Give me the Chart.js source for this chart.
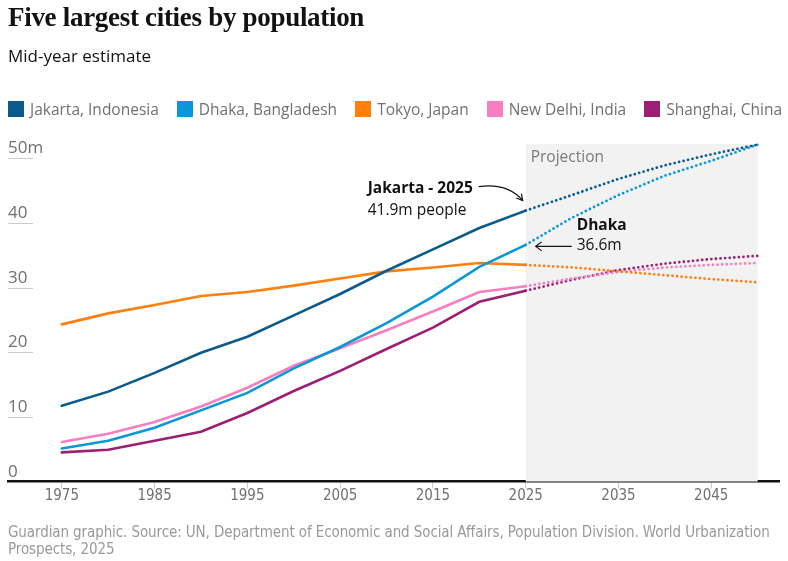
<!DOCTYPE html>
<html>
<head>
<meta charset="utf-8">
<script src="https://cdn.jsdelivr.net/npm/chart.js@4.4.1/dist/chart.umd.min.js"></script>
<style>
  body { margin: 0; background: #fff; }
  #wrap { position: relative; width: 788px; height: 561px; overflow: hidden; }
  #chart { position: absolute; left: 0; top: 0; }
  .txt { position: absolute; left: 8px; margin: 0; z-index: 2; }
  #title { top: 2px; font: bold 27px "Liberation Serif", serif; color: #121212; letter-spacing: -0.3px; }
  #subtitle { top: 44px; font: 17px "Open Sans", sans-serif; color: #121212; }
  #legend { top: 98px; display: flex; gap: 18px; font: 15.5px "Open Sans", sans-serif; color: #707070; }
  #legend span { display: flex; align-items: center; }
  #legend i { display: inline-block; width: 16px; height: 16px; margin-right: 6px; }
  #footer { top: 524px; width: 778px; font: 15px "DejaVu Sans Condensed", "Liberation Sans Narrow", sans-serif; color: #999; line-height: 17px; letter-spacing: -0.1px; }
</style>
</head>
<body>
<div id="wrap">
  <canvas id="chart" width="788" height="561"></canvas>
  <div class="txt" id="title">Five largest cities by population</div>
  <div class="txt" id="subtitle">Mid-year estimate</div>
  <div class="txt" id="legend"></div>
  <div class="txt" id="footer">Guardian graphic. Source: UN, Department of Economic and Social Affairs, Population Division. World Urbanization Prospects, 2025</div>
</div>
<script>
// years (5-year steps, projection from 2025)
const years = [1975, 1980, 1985, 1990, 1995, 2000, 2005, 2010, 2015, 2020, 2025, 2030, 2035, 2040, 2045, 2050];
const projectionStart = 2025;
const projectionEnd = 2050;

// population in millions
const jakarta = [11.7, 13.9, 16.8, 19.9, 22.4, 25.7, 29.0, 32.6, 35.9, 39.2, 41.9, 44.3, 46.8, 48.9, 50.6, 52.1];
const dhaka = [5.1, 6.3, 8.3, 11.0, 13.7, 17.5, 20.8, 24.5, 28.6, 33.2, 36.6, 40.8, 44.3, 47.3, 49.6, 52.1];
const tokyo = [24.3, 26.0, 27.3, 28.7, 29.3, 30.3, 31.4, 32.5, 33.1, 33.8, 33.5, 33.1, 32.5, 31.9, 31.3, 30.8];
const newDelhi = [6.1, 7.4, 9.2, 11.6, 14.5, 17.9, 20.6, 23.4, 26.3, 29.3, 30.2, 31.4, 32.4, 33.1, 33.5, 33.8];
const shanghai = [4.5, 4.9, 6.3, 7.7, 10.6, 14.0, 17.1, 20.5, 23.8, 27.8, 29.5, 31.2, 32.7, 33.7, 34.4, 34.9];

const cityNames = ["Jakarta, Indonesia", "Dhaka, Bangladesh", "Tokyo, Japan", "New Delhi, India", "Shanghai, China"];
const cityColors = ["#0b5a8c", "#0a96d9", "#ff7f0f", "#f77fc0", "#9b1f72"];
const citySeries = [jakarta, dhaka, tokyo, newDelhi, shanghai];

const xTicks = [1975, 1985, 1995, 2005, 2015, 2025, 2035, 2045];
const yTicks = [0, 10, 20, 30, 40, 50];

// legend
const legend = document.getElementById("legend");
cityNames.forEach((name, i) => {
  const item = document.createElement("span");
  item.innerHTML = `<i style="background:${cityColors[i]}"></i>${name}`;
  legend.appendChild(item);
});

const datasets = citySeries.map((values, i) => ({
  label: cityNames[i],
  data: values.map((v, j) => ({ x: years[j], y: v })),
  borderColor: cityColors[i],
  borderWidth: 2.6,
  borderCapStyle: "round",
  pointRadius: 0,
  tension: 0,
  clip: false,
  segment: {
    borderDash: (ctx) => (ctx.p0.parsed.x >= projectionStart ? [0, 4.6] : undefined),
    borderWidth: (ctx) => (ctx.p0.parsed.x >= projectionStart ? 2.8 : 2.6),
  },
}));

const extras = {
  id: "extras",
  beforeDatasetsDraw(chart) {
    const { ctx, chartArea, scales } = chart;
    const x = scales.x, y = scales.y;
    // projection band
    ctx.save();
    ctx.fillStyle = "#f2f2f2";
    const bx0 = x.getPixelForValue(projectionStart);
    const bx1 = x.getPixelForValue(projectionEnd);
    ctx.fillRect(bx0, chartArea.top, bx1 - bx0, chartArea.bottom - chartArea.top);
    ctx.fillStyle = "#7a7a7a";
    ctx.font = '15.5px "Open Sans", sans-serif';
    ctx.textBaseline = "middle";
    ctx.fillText("Projection", bx0 + 5, chartArea.top + 14);

    // y labels with short grid lines
    ctx.font = '17px "Open Sans", sans-serif';
    ctx.textBaseline = "alphabetic";
    yTicks.forEach((v) => {
      const py = y.getPixelForValue(v);
      if (v > 0) {
        ctx.strokeStyle = "#cccccc";
        ctx.lineWidth = 1;
        ctx.beginPath();
        ctx.moveTo(chartArea.left, Math.round(py) + 0.5);
        ctx.lineTo(chartArea.left + 25, Math.round(py) + 0.5);
        ctx.stroke();
      }
      ctx.fillStyle = "#707070";
      ctx.fillText(v === 50 ? "50m" : String(v), chartArea.left, py - 5);
    });
    ctx.restore();
  },
  afterDatasetsDraw(chart) {
    const { ctx, scales } = chart;
    const x = scales.x, y = scales.y;
    ctx.save();
    ctx.fillStyle = "#121212";
    ctx.strokeStyle = "#121212";
    ctx.lineWidth = 1.2;
    ctx.textBaseline = "middle";

    // Jakarta 2025
    const jx = x.getPixelForValue(2025);
    const jy = y.getPixelForValue(jakarta[years.indexOf(2025)]);
    ctx.font = 'bold 15.5px "Open Sans", sans-serif';
    ctx.fillText("Jakarta - 2025", jx - 158, jy - 22);
    ctx.font = '15.5px "Open Sans", sans-serif';
    ctx.fillText("41.9m people", jx - 158, jy);
    const ex = jx - 3, ey = jy - 10;
    ctx.beginPath();
    ctx.moveTo(jx - 47, jy - 24);
    ctx.quadraticCurveTo(jx - 18, jy - 28, ex, ey);
    ctx.stroke();
    const ang = Math.atan2(ey - (jy - 28), ex - (jx - 18));
    ctx.beginPath();
    ctx.moveTo(ex - 7 * Math.cos(ang - 0.5), ey - 7 * Math.sin(ang - 0.5));
    ctx.lineTo(ex, ey);
    ctx.lineTo(ex - 7 * Math.cos(ang + 0.5), ey - 7 * Math.sin(ang + 0.5));
    ctx.stroke();

    // Dhaka 2025
    const dx = x.getPixelForValue(2025);
    const dy = y.getPixelForValue(dhaka[years.indexOf(2025)]);
    ctx.font = 'bold 15.5px "Open Sans", sans-serif';
    ctx.fillText("Dhaka", dx + 51, dy - 19);
    ctx.font = '15.5px "Open Sans", sans-serif';
    ctx.fillText("36.6m", dx + 51, dy + 1);
    ctx.beginPath();
    ctx.moveTo(dx + 46, dy + 1.5);
    ctx.lineTo(dx + 10, dy + 1.5);
    ctx.moveTo(dx + 16, dy - 3);
    ctx.lineTo(dx + 10, dy + 1.5);
    ctx.lineTo(dx + 16, dy + 6);
    ctx.stroke();
    ctx.restore();
  },
};

new Chart(document.getElementById("chart"), {
  type: "line",
  data: { datasets },
  plugins: [extras],
  options: {
    responsive: false,
    animation: false,
    layout: { padding: { left: 8, right: 9, top: 144, bottom: 49.5 } },
    plugins: { legend: { display: false }, tooltip: { enabled: false } },
    scales: {
      x: {
        type: "linear",
        min: 1969.2,
        max: 2052.3,
        afterBuildTicks: (s) => { s.ticks = xTicks.map((v) => ({ value: v })); },
        afterFit: (s) => { s.height = 30; },
        grid: { drawOnChartArea: false, drawTicks: true, tickLength: 7, color: "#cccccc" },
        border: { display: true, color: "#121212", width: 2.5 },
        ticks: {
          padding: -1,
          maxRotation: 0,
          autoSkip: false,
          color: "#707070",
          font: { family: '"DejaVu Sans Condensed", "Liberation Sans Narrow", sans-serif', size: 15 },
          callback: (v) => String(v),
        },
      },
      y: { display: false, min: 0, max: 52.2 },
    },
  },
});
</script>
</body>
</html>
